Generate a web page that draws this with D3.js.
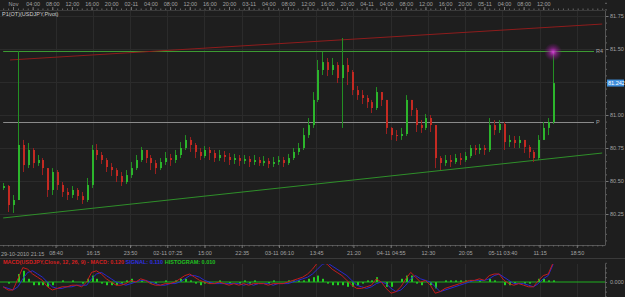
<!DOCTYPE html>
<html>
<head>
<meta charset="utf-8">
<script src="https://cdn.jsdelivr.net/npm/d3@7"></script>
<style>
  html, body { margin: 0; padding: 0; background: #1e1e1e; }
  svg { display: block; font-family: "Liberation Sans", "DejaVu Sans", sans-serif; }
</style>
</head>
<body>
<svg id="chart" width="625" height="297"></svg>
<script>
// hourly bars, hour 0 = 01-11 00:00 (weekend gap removed)
const firstHour = -2;
const firstOpen = 80.447;
const closes = [80.462, 80.318, 80.356, 80.773, 80.621, 80.735, 80.636, 80.659, 80.598, 80.432,
  80.568, 80.470, 80.417, 80.394, 80.432, 80.386, 80.356, 80.470, 80.735, 80.697,
  80.659, 80.606, 80.583, 80.538, 80.492, 80.545, 80.598, 80.659, 80.735, 80.674,
  80.636, 80.598, 80.644, 80.674, 80.659, 80.697, 80.750, 80.811, 80.773, 80.720,
  80.689, 80.735, 80.712, 80.674, 80.697, 80.682, 80.659, 80.674, 80.652, 80.667,
  80.644, 80.659, 80.636, 80.652, 80.629, 80.644, 80.659, 80.636, 80.674, 80.720,
  80.750, 80.848, 80.924, 81.114, 81.341, 81.401, 81.341, 81.379, 81.280, 81.379,
  81.326, 81.189, 81.151, 81.129, 81.098, 81.053, 81.174, 81.114, 80.902, 80.848,
  80.841, 80.856, 81.114, 81.038, 80.924, 80.902, 80.977, 80.924, 80.674, 80.636,
  80.659, 80.644, 80.674, 80.659, 80.689, 80.750, 80.735, 80.750, 80.735, 80.924,
  80.886, 80.932, 80.795, 80.811, 80.788, 80.811, 80.758, 80.720, 80.674, 80.811,
  80.902, 80.947, 81.242];
const highs = [80.485, 80.470, 80.394, 81.485, 80.811, 80.788, 80.750, 80.697, 80.674, 80.598,
  80.598, 80.583, 80.492, 80.447, 80.462, 80.447, 80.417, 80.523, 80.773, 80.780,
  80.720, 80.674, 80.636, 80.598, 80.568, 80.583, 80.644, 80.697, 80.758, 80.735,
  80.697, 80.659, 80.674, 80.720, 80.705, 80.735, 80.795, 80.848, 80.833, 80.788,
  80.750, 80.765, 80.758, 80.735, 80.735, 80.727, 80.712, 80.705, 80.697, 80.697,
  80.689, 80.697, 80.682, 80.689, 80.674, 80.682, 80.689, 80.682, 80.705, 80.750,
  80.788, 80.902, 80.977, 81.174, 81.417, 81.477, 81.432, 81.432, 81.401, 81.583,
  81.432, 81.341, 81.220, 81.189, 81.151, 81.114, 81.212, 81.159, 81.114, 80.909,
  80.886, 80.902, 81.151, 81.114, 81.053, 80.962, 81.008, 81.000, 80.924, 80.689,
  80.697, 80.697, 80.705, 80.712, 80.720, 80.773, 80.773, 80.780, 80.773, 80.977,
  80.962, 80.962, 80.947, 80.848, 80.841, 80.841, 80.811, 80.773, 80.735, 80.848,
  80.947, 80.977, 81.477];
const lows = [80.432, 80.265, 80.258, 80.356, 80.568, 80.598, 80.598, 80.614, 80.545, 80.379,
  80.394, 80.432, 80.379, 80.356, 80.371, 80.356, 80.326, 80.341, 80.447, 80.659,
  80.629, 80.568, 80.538, 80.492, 80.462, 80.477, 80.523, 80.583, 80.644, 80.636,
  80.583, 80.553, 80.583, 80.621, 80.614, 80.636, 80.674, 80.735, 80.720, 80.674,
  80.659, 80.674, 80.659, 80.644, 80.652, 80.644, 80.621, 80.629, 80.614, 80.629,
  80.606, 80.621, 80.614, 80.614, 80.598, 80.606, 80.621, 80.606, 80.621, 80.659,
  80.697, 80.735, 80.826, 80.902, 81.098, 81.303, 81.295, 81.303, 81.242, 80.902,
  81.227, 81.151, 81.114, 81.083, 81.053, 81.015, 81.038, 81.068, 80.856, 80.811,
  80.803, 80.811, 80.841, 80.992, 80.871, 80.864, 80.886, 80.871, 80.598, 80.583,
  80.614, 80.606, 80.629, 80.621, 80.644, 80.674, 80.697, 80.705, 80.697, 80.720,
  80.848, 80.864, 80.735, 80.758, 80.750, 80.750, 80.712, 80.674, 80.644, 80.659,
  80.811, 80.848, 80.932];

const macdVals = [-0.03, -0.05, -0.05, 0.02, 0.09, 0.08, 0.05, 0.03, 0.01, -0.03,
  -0.05, -0.04, -0.03, -0.03, -0.02, -0.02, -0.03, 0.00, 0.06, 0.07,
  0.05, 0.02, 0.00, -0.02, -0.02, -0.01, 0.01, 0.00, 0.02, 0.01,
  -0.01, -0.02, -0.02, -0.01, -0.01, 0.00, 0.02, 0.04, 0.05, 0.03,
  0.01, 0.00, -0.01, -0.01, 0.00, -0.01, -0.02, -0.01, -0.02, -0.01,
  -0.02, -0.01, -0.01, -0.01, -0.02, -0.01, -0.01, -0.01, 0.00, 0.01,
  0.02, 0.03, 0.05, 0.08, 0.12, 0.13, 0.11, 0.08, 0.06, 0.04,
  0.01, -0.02, -0.04, -0.04, -0.03, -0.02, 0.02, 0.00, -0.04, -0.07,
  -0.06, -0.03, 0.02, 0.06, 0.03, 0.00, 0.01, -0.02, -0.07, -0.06,
  -0.04, -0.03, -0.02, -0.01, 0.00, 0.01, 0.01, 0.02, 0.01, 0.04,
  0.05, 0.05, 0.01, -0.01, -0.02, -0.01, -0.02, -0.03, -0.03, 0.01,
  0.04, 0.05, 0.12];
const signalVals = [-0.03, -0.04, -0.05, -0.03, 0.02, 0.06, 0.07, 0.05, 0.03, 0.00,
  -0.03, -0.04, -0.04, -0.03, -0.03, -0.02, -0.02, -0.02, 0.02, 0.05,
  0.06, 0.04, 0.02, 0.00, -0.01, -0.02, -0.01, 0.00, 0.01, 0.01,
  0.00, -0.01, -0.02, -0.02, -0.01, -0.01, 0.00, 0.02, 0.04, 0.04,
  0.03, 0.01, 0.00, -0.01, -0.01, -0.01, -0.01, -0.01, -0.01, -0.02,
  -0.01, -0.02, -0.01, -0.01, -0.01, -0.02, -0.01, -0.01, -0.01, 0.00,
  0.01, 0.02, 0.03, 0.05, 0.08, 0.11, 0.12, 0.10, 0.08, 0.06,
  0.04, 0.01, -0.02, -0.03, -0.04, -0.03, -0.01, 0.00, -0.01, -0.04,
  -0.06, -0.05, -0.02, 0.02, 0.04, 0.02, 0.01, 0.00, -0.03, -0.06,
  -0.05, -0.04, -0.03, -0.02, -0.01, 0.00, 0.01, 0.01, 0.01, 0.02,
  0.04, 0.05, 0.03, 0.01, -0.01, -0.01, -0.01, -0.02, -0.03, -0.01,
  0.02, 0.04, 0.11];
const histVals = [0.00, -0.01, 0.00, 0.05, 0.07, 0.02, -0.02, -0.02, -0.02, -0.03,
  -0.02, 0.00, 0.01, 0.00, 0.01, 0.00, -0.01, 0.02, 0.04, 0.02,
  -0.01, -0.02, -0.02, -0.02, -0.01, 0.01, 0.02, 0.00, 0.01, 0.00,
  -0.01, -0.01, 0.00, 0.01, 0.00, 0.01, 0.02, 0.02, 0.01, -0.01,
  -0.02, -0.01, -0.01, 0.00, 0.01, 0.00, -0.01, 0.00, -0.01, 0.01,
  -0.01, 0.01, 0.00, 0.00, -0.01, 0.01, 0.00, 0.00, 0.01, 0.01,
  0.01, 0.01, 0.02, 0.03, 0.04, 0.02, -0.01, -0.02, -0.02, -0.02,
  -0.03, -0.03, -0.02, -0.01, 0.01, 0.01, 0.03, 0.00, -0.03, -0.03,
  0.00, 0.02, 0.04, 0.04, -0.01, -0.02, 0.00, -0.02, -0.04, 0.00,
  0.01, 0.01, 0.01, 0.01, 0.01, 0.01, 0.00, 0.01, 0.00, 0.02,
  0.01, 0.00, -0.02, -0.02, -0.01, 0.00, -0.01, -0.01, 0.00, 0.02,
  0.02, 0.01, 0.01];

const priceTicks = [81.75, 81.50, 81.25, 81.00, 80.75, 80.50, 80.25];
const pivotNames = ["R4", "P"];
const pivotValues = [81.485, 80.947];
// trend lines: [hour, price] at both ends
const upperTrend = [[-0.6, 81.417], [120, 81.689]];
const lowerTrend = [[-2, 80.220], [120, 80.712]];

const topTickLabels = ["Nov", "04:00", "08:00", "12:00", "16:00", "20:00",
  "02-11", "04:00", "08:00", "12:00", "16:00", "20:00",
  "03-11", "04:00", "08:00", "12:00", "16:00", "20:00",
  "04-11", "04:00", "08:00", "12:00", "16:00", "20:00",
  "05-11", "04:00", "08:00", "12:00"];
const bottomTickLabels = ["08:40", "16:15", "23:50", "02-11 07:25", "15:00", "22:35",
  "03-11 06:10", "13:45", "21:20", "04-11 04:55", "12:30", "20:05",
  "05-11 03:40", "11:15", "18:50"];
const bottomTickHours = [8.67, 16.25, 23.83, 31.42, 39.0, 46.58, 54.17, 61.75,
  69.33, 76.92, 84.5, 92.08, 99.67, 107.25, 114.83];
const firstBarLabel = "29-10-2010 21:15";
const chartTitle = "P1(OT)(USDJPY,Pivot)";

const W = 625, H = 297;
const plotRight = 605, plotTop = 11, plotBottom = 245;
const macdTop = 264, macdBottom = 297;
const txt = "#a3a3a3", axisCol = "#555", gridCol = "#2b2b2b";

const svg = d3.select("#chart");
const x = d3.scaleLinear().domain([0, 120]).range([13, 602.2]);
const y = d3.scaleLinear().domain([80.25, 81.75]).range([214, 16]);
const ym = d3.scaleLinear().domain([-0.1, 0.12]).range([298, 262.8]);

svg.append("rect").attr("width", W).attr("height", H).attr("fill", "#1e1e1e");

const defs = svg.append("defs");
defs.append("clipPath").attr("id", "plotClip").append("rect")
  .attr("x", 0).attr("y", plotTop).attr("width", plotRight).attr("height", plotBottom - plotTop);
defs.append("clipPath").attr("id", "macdClip").append("rect")
  .attr("x", 0).attr("y", macdTop).attr("width", plotRight).attr("height", macdBottom - macdTop);
const glow = defs.append("radialGradient").attr("id", "glow");
glow.append("stop").attr("offset", "0%").attr("stop-color", "#e040e0").attr("stop-opacity", 0.95);
glow.append("stop").attr("offset", "45%").attr("stop-color", "#a020a0").attr("stop-opacity", 0.55);
glow.append("stop").attr("offset", "100%").attr("stop-color", "#801080").attr("stop-opacity", 0);

// top time axis
const hourTicks = d3.range(-2, 121);
svg.append("g").attr("transform", `translate(0,${plotTop - 1})`)
  .call(d3.axisTop(x).tickValues(hourTicks).tickSize(1.5).tickFormat(""))
  .call(g => g.select(".domain").remove())
  .call(g => g.selectAll("line").attr("stroke", "#666"));
svg.append("g").attr("transform", `translate(0,${plotTop - 1})`)
  .call(d3.axisTop(x).tickValues(topTickLabels.map((d, i) => i * 4)).tickSize(3).tickPadding(1.5)
    .tickFormat((d, i) => topTickLabels[i]))
  .call(g => g.select(".domain").remove())
  .call(g => g.selectAll("line").attr("stroke", "#777"))
  .call(g => g.selectAll("text").attr("fill", txt).attr("font-size", 5.5).attr("font-family", null));
svg.append("line").attr("x1", 0).attr("x2", plotRight).attr("y1", plotTop - 0.5).attr("y2", plotTop - 0.5)
  .attr("stroke", "#3a3a3a");

// grid
const plot = svg.append("g").attr("clip-path", "url(#plotClip)");
plot.selectAll(".hgrid").data(priceTicks).join("line")
  .attr("x1", 0).attr("x2", plotRight).attr("y1", d => y(d) + 0.5).attr("y2", d => y(d) + 0.5)
  .attr("stroke", gridCol);
plot.selectAll(".vgrid").data(bottomTickHours).join("line")
  .attr("x1", d => Math.round(x(d)) + 0.5).attr("x2", d => Math.round(x(d)) + 0.5)
  .attr("y1", plotTop).attr("y2", plotBottom).attr("stroke", gridCol);

// pivot levels
const pivotEnd = 594;
plot.selectAll(".pivot").data(pivotValues).join("line")
  .attr("x1", x(firstHour)).attr("x2", pivotEnd)
  .attr("y1", d => Math.round(y(d)) + 0.5).attr("y2", d => Math.round(y(d)) + 0.5)
  .attr("stroke", (d, i) => i === 0 ? "#3c9a32" : "#8a8a8a").attr("stroke-width", 1);
svg.selectAll(".pivotLbl").data(pivotValues).join("text")
  .attr("x", pivotEnd + 2).attr("y", d => y(d) + 2.5)
  .attr("fill", txt).attr("font-size", 5.5).text((d, i) => pivotNames[i]);

// trend lines
const trendLine = d3.line().x(d => x(d[0])).y(d => y(d[1]));
plot.append("path").attr("d", trendLine(upperTrend)).attr("stroke", "#8e1c1c").attr("fill", "none");
plot.append("path").attr("d", trendLine(lowerTrend)).attr("stroke", "#2f8f2a").attr("fill", "none");

// candles
const bars = closes.map((c, i) => ({
  t: firstHour + i,
  o: i === 0 ? firstOpen : closes[i - 1],
  c: c, h: highs[i], l: lows[i]
}));
const up = "#2cb52c", down = "#c42a22";
const candle = plot.selectAll(".bar").data(bars).join("g");
candle.append("line")
  .attr("x1", d => Math.round(x(d.t)) + 0.5).attr("x2", d => Math.round(x(d.t)) + 0.5)
  .attr("y1", d => y(Math.max(d.h, d.o, d.c))).attr("y2", d => y(Math.min(d.l, d.o, d.c)))
  .attr("stroke", d => d.c >= d.o ? "#238f23" : "#992020");
candle.append("rect")
  .attr("x", d => Math.round(x(d.t))).attr("width", 2)
  .attr("y", d => y(Math.max(d.o, d.c)))
  .attr("height", d => Math.max(1, Math.abs(y(d.o) - y(d.c))))
  .attr("fill", d => d.c >= d.o ? up : down);

// glow at last high
const last = bars[bars.length - 1];
plot.append("circle").attr("cx", x(last.t)).attr("cy", y(last.h)).attr("r", 9).attr("fill", "url(#glow)");

// title
svg.append("text").attr("x", 2).attr("y", 16).attr("fill", "#d0d0d0").attr("font-size", 5.5).text(chartTitle);

// right price axis (label hidden under the current price box)
const cy = y(last.c);
svg.append("g").attr("transform", `translate(${plotRight},0)`)
  .call(d3.axisRight(y).tickValues(d3.range(80.05, 81.90, 0.05)).tickSize(2).tickFormat(""))
  .call(g => g.select(".domain").remove())
  .call(g => g.selectAll("line").attr("stroke", "#666"));
svg.append("g").attr("transform", `translate(${plotRight},0)`)
  .call(d3.axisRight(y).tickValues(priceTicks.filter(p => Math.abs(y(p) - cy) > 6))
    .tickSize(3.5).tickPadding(1.5).tickFormat(d3.format(".2f")))
  .call(g => g.select(".domain").remove())
  .call(g => g.selectAll("line").attr("stroke", "#777"))
  .call(g => g.selectAll("text").attr("fill", txt).attr("font-size", 5.5).attr("font-family", null));
svg.append("line").attr("x1", plotRight + 0.5).attr("x2", plotRight + 0.5)
  .attr("y1", plotTop).attr("y2", plotBottom).attr("stroke", axisCol);

// current price box
svg.append("rect").attr("x", plotRight + 2).attr("y", cy - 3.5).attr("width", 17).attr("height", 7)
  .attr("fill", "#3f8fdc");
svg.append("text").attr("x", plotRight + 3).attr("y", cy + 2).attr("fill", "#ffffff")
  .attr("font-size", 5.5).text(d3.format(".3f")(last.c));

// bottom time axis
svg.append("line").attr("x1", 0).attr("x2", plotRight + 0.5).attr("y1", plotBottom + 0.5).attr("y2", plotBottom + 0.5)
  .attr("stroke", axisCol);
svg.append("g").attr("transform", `translate(0,${plotBottom})`)
  .call(d3.axisBottom(x).tickValues(hourTicks).tickSize(1.5).tickFormat(""))
  .call(g => g.select(".domain").remove())
  .call(g => g.selectAll("line").attr("stroke", "#666"));
svg.append("g").attr("transform", `translate(0,${plotBottom})`)
  .call(d3.axisBottom(x).tickValues(bottomTickHours).tickSize(3).tickPadding(3)
    .tickFormat((d, i) => bottomTickLabels[i]))
  .call(g => g.select(".domain").remove())
  .call(g => g.selectAll("line").attr("stroke", "#777"))
  .call(g => g.selectAll("text").attr("fill", txt).attr("font-size", 5.5).attr("font-family", null));
svg.append("text").attr("x", 1).attr("y", 256).attr("fill", txt).attr("font-size", 5.5).text(firstBarLabel);
svg.append("line").attr("x1", 0).attr("x2", W).attr("y1", 258.5).attr("y2", 258.5).attr("stroke", "#3a3a3a");

// MACD legend
const fmt = d3.format(".3f");
const legend = svg.append("text").attr("x", 3).attr("y", 263.5).attr("font-size", 5.5).attr("font-weight", "bold");
legend.append("tspan").attr("fill", "#d42020").text("MACD(USDJPY,Close, 12, 26, 9) - ");
legend.append("tspan").attr("fill", "#d42020").text("MACD: " + fmt(macdVals[macdVals.length - 1]) + " ");
legend.append("tspan").attr("fill", "#3030e0").text("SIGNAL: " + fmt(signalVals[signalVals.length - 1]) + " ");
legend.append("tspan").attr("fill", "#20c020").text("HISTOGRAM: " + fmt(histVals[histVals.length - 1]));

// MACD panel
const mp = svg.append("g").attr("clip-path", "url(#macdClip)");
mp.selectAll(".mgrid").data(bottomTickHours).join("line")
  .attr("x1", d => Math.round(x(d)) + 0.5).attr("x2", d => Math.round(x(d)) + 0.5)
  .attr("y1", macdTop).attr("y2", macdBottom).attr("stroke", gridCol);
mp.selectAll(".hist").data(histVals).join("rect")
  .attr("x", (d, i) => Math.round(x(firstHour + i))).attr("width", 2)
  .attr("y", d => ym(Math.max(0, d))).attr("height", d => Math.abs(ym(d) - ym(0)))
  .attr("fill", "#22d022");
mp.append("line").attr("x1", 0).attr("x2", plotRight).attr("y1", ym(0)).attr("y2", ym(0))
  .attr("stroke", "#1fae1f");
const mline = d3.line().x((d, i) => x(firstHour + i)).y(d => ym(d));
mp.append("path").attr("d", mline(signalVals)).attr("stroke", "#2828d0").attr("fill", "none").attr("stroke-width", 1);
mp.append("path").attr("d", mline(macdVals)).attr("stroke", "#c41c1c").attr("fill", "none").attr("stroke-width", 1);

svg.append("g").attr("transform", `translate(${plotRight},0)`)
  .call(d3.axisRight(ym).tickValues([-0.09, -0.06, -0.03, 0, 0.03, 0.06, 0.09]).tickSize(2)
    .tickFormat(d => d === 0 ? "0.000" : ""))
  .call(g => g.select(".domain").attr("stroke", axisCol))
  .call(g => g.selectAll("line").attr("stroke", "#666"))
  .call(g => g.selectAll("text").attr("fill", txt).attr("font-size", 5.5).attr("font-family", null));
</script>
</body>
</html>
